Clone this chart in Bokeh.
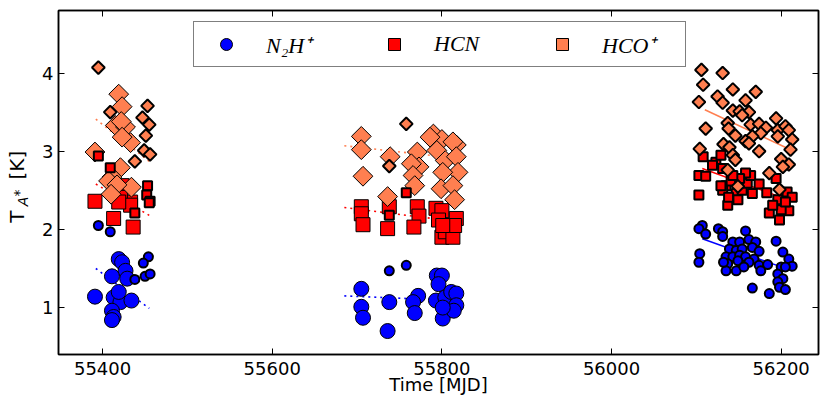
import numpy as np
from bokeh.plotting import figure
from bokeh.layouts import row
from bokeh.models import (Range1d, FixedTicker, LinearAxis, Legend, LegendItem,
                          Label, CustomJSTickFormatter)
from bokeh.embed import file_html
from bokeh.resources import INLINE

# ---------------- data (MJD, T_A* in K) ----------------
# large markers, thin edges (seasons 1 and 2)
n2h_big_t = [55419, 55423, 55427, 55411, 55429, 55391, 55413, 55421, 55434, 55411, 55413, 55411, 55419,
             55705, 55705, 55707, 55738, 55736, 55772, 55766, 55768, 55794, 55800, 55796, 55793,
             55804, 55811, 55817, 55817, 55801, 55814, 55801]
n2h_big_v = [1.62, 1.58, 1.47, 1.40, 1.37, 1.14, 1.13, 1.07, 1.09, 0.96, 0.88, 0.84, 1.20,
             1.24, 1.01, 0.87, 1.07, 0.70, 1.15, 1.07, 0.93, 1.41, 1.41, 1.30, 1.09,
             1.13, 1.20, 1.18, 1.03, 0.86, 0.96, 1.00]

hcn_big_t = [55391, 55423, 55433, 55421, 55433, 55419, 55413, 55436,
             55705, 55705, 55707, 55738, 55736, 55771, 55773, 55767, 55793, 55800, 55796,
             55800, 55804, 55813, 55817, 55815, 55801]
hcn_big_v = [2.36, 2.56, 2.35, 2.41, 2.31, 2.35, 2.14, 2.03,
             2.29, 2.20, 2.06, 2.29, 2.01, 2.29, 2.17, 2.03, 2.27, 2.24, 2.12,
             1.90, 1.97, 1.90, 2.14, 2.05, 2.05]

hco_big_t = [55419, 55423, 55415, 55427, 55422, 55433, 55423, 55391, 55421, 55411, 55407, 55434, 55417, 55410,
             55705, 55705, 55739, 55707, 55771, 55773, 55764, 55766, 55768, 55736, 55790, 55800,
             55794, 55817, 55813, 55804, 55817, 55819, 55801, 55799, 55813, 55815, 55786]
hco_big_v = [3.73, 3.57, 3.33, 3.31, 3.38, 3.11, 3.18, 2.99, 2.79, 2.67, 2.62, 2.54, 2.57, 2.45,
             3.19, 3.02, 2.93, 2.68, 2.99, 2.80, 2.84, 2.69, 2.56, 2.42, 3.22, 3.15,
             3.01, 3.08, 3.12, 2.88, 2.93, 2.73, 2.73, 2.52, 2.56, 2.38, 3.18]

# small markers, thick edges (all three seasons)
n2h_small_t = [55395, 55409, 55454, 55448, 55438, 55450, 55456, 55738, 55758,
               56107, 56103, 56111, 56126, 56131, 56131, 56158, 56194, 56104, 56103,
               56143, 56151, 56162, 56170, 56139, 56147, 56154, 56166, 56174, 56135,
               56143, 56151, 56158, 56168, 56149, 56137, 56174, 56184, 56202, 56209,
               56213, 56200, 56205, 56135, 56147, 56176, 56196, 56202, 56196, 56166,
               56186, 56198, 56205, 56132, 56162, 56156]
n2h_small_v = [2.05, 1.97, 1.65, 1.57, 1.36, 1.40, 1.43, 1.47, 1.54,
               2.05, 2.01, 1.94, 2.01, 1.97, 1.91, 1.98, 1.85, 1.69, 1.58,
               1.84, 1.84, 1.87, 1.84, 1.75, 1.73, 1.75, 1.77, 1.72, 1.65,
               1.65, 1.67, 1.65, 1.62, 1.60, 1.56, 1.54, 1.55, 1.71, 1.62,
               1.53, 1.52, 1.52, 1.47, 1.47, 1.47, 1.43, 1.37, 1.33, 1.25,
               1.18, 1.26, 1.23, 1.58, 1.58, 1.52]

hcn_small_t = [55395, 55409, 55453, 55452, 55456, 55455, 55438, 55758, 55738,
               56103, 56111, 56103, 56137, 56135, 56141, 56131, 56147, 56154, 56160,
               56164, 56158, 56174, 56166, 56183, 56194, 56196, 56207, 56213, 56209,
               56200, 56186, 56198, 56151, 56143, 56138, 56149, 56205, 56190, 56129,
               56108, 56123, 56129, 56131, 56119]
hcn_small_v = [2.94, 2.79, 2.56, 2.44, 2.36, 2.34, 2.21, 2.47, 2.18,
               2.69, 2.68, 2.44, 2.31, 2.56, 2.62, 2.50, 2.46, 2.50, 2.59,
               2.69, 2.72, 2.58, 2.46, 2.47, 2.65, 2.38, 2.48, 2.41, 2.24,
               2.25, 2.21, 2.12, 2.65, 2.69, 2.41, 2.38, 2.35, 2.31, 2.56,
               2.93, 2.86, 2.95, 2.78, 2.82]

hco_small_t = [55395, 55409, 55453, 55447, 55455, 55451, 55449, 55456, 55438, 55758, 55738,
               56106, 56131, 56108, 56143, 56170, 56103, 56125, 56131, 56158, 56143,
               56151, 56162, 56154, 56194, 56111, 56137, 56138, 56164, 56174, 56182,
               56196, 56205, 56209, 56176, 56166, 56196, 56213, 56146, 56158, 56132,
               56139, 56162, 56174, 56211, 56104, 56143, 56146, 56200, 56209, 56202,
               56137, 56186, 56149, 56198]
hco_small_v = [4.07, 3.50, 3.58, 3.43, 3.34, 3.20, 3.01, 2.96, 2.87, 3.35, 2.81,
               4.04, 4.00, 3.85, 3.79, 3.76, 3.63, 3.70, 3.62, 3.65, 3.52,
               3.51, 3.50, 3.46, 3.42, 3.29, 3.36, 3.29, 3.34, 3.35, 3.30,
               3.27, 3.32, 3.27, 3.23, 3.19, 3.19, 3.15, 3.20, 3.13, 3.09,
               3.05, 3.10, 3.00, 3.02, 3.03, 2.95, 2.89, 2.90, 2.83, 2.80,
               2.76, 2.72, 2.55, 2.51]

# linear fits per season: start/end time and value
fit_dot_t0 = [55392, 55685, 55392, 55685, 55392, 55685]
fit_dot_t1 = [55455, 55818, 55455, 55818, 55455, 55818]
fit_dot_v0 = [1.50, 1.15, 2.58, 2.28, 3.41, 3.07]
fit_dot_v1 = [0.99, 1.09, 2.18, 2.10, 2.87, 2.91]
fit_dot_col = ["blue", "blue", "red", "red", "coral", "coral"]

fit_sol_t0 = [56107, 56107, 56110]
fit_sol_t1 = [56213, 56213, 56213]
fit_sol_v0 = [1.88, 2.78, 3.53]
fit_sol_v1 = [1.47, 2.36, 3.01]
fit_sol_col = ["blue", "red", "coral"]

x_ticks = [55400, 55600, 55800, 56000, 56200]
y_ticks = [1, 2, 3, 4]

LAB_W = 32
TOTAL_H = 407

# ---------------- main figure ----------------
p = figure(frame_width=760, frame_height=344,
           x_range=Range1d(55348, 56244), y_range=Range1d(0.4, 4.8),
           output_backend="svg", toolbar_location=None,
           min_border_left=58 - LAB_W, min_border_right=4, min_border_top=10, min_border_bottom=53)
p.xgrid.visible = False
p.ygrid.visible = False
p.outline_line_color = "black"
p.outline_line_width = 1.5
p.outline_line_alpha = 1.0
p.background_fill_color = "white"
p.border_fill_color = "white"


def style_axis(ax, ticks):
    ax.ticker = FixedTicker(ticks=ticks)
    ax.major_tick_in = 6
    ax.major_tick_out = 0
    ax.minor_tick_in = 0
    ax.minor_tick_out = 0
    ax.axis_line_width = 1.5
    ax.axis_line_color = "black"
    ax.major_tick_line_color = "black"
    ax.major_tick_line_width = 1
    ax.major_label_text_font = "DejaVu Sans"
    ax.major_label_text_font_size = "18px"
    ax.major_label_text_color = "black"


style_axis(p.xaxis[0], x_ticks)
style_axis(p.yaxis[0], y_ticks)
p.xaxis[0].major_label_standoff = 7
p.yaxis[0].major_label_standoff = 5
p.xaxis[0].axis_label = "Time [MJD]"
p.xaxis[0].axis_label_text_font = "DejaVu Sans"
p.xaxis[0].axis_label_text_font_size = "18px"
p.xaxis[0].axis_label_text_font_style = "normal"
p.xaxis[0].axis_label_text_color = "black"
p.xaxis[0].axis_label_standoff = -4

blank = CustomJSTickFormatter(code="return ''")
for side, ticks in (("above", x_ticks), ("right", y_ticks)):
    ax = LinearAxis(formatter=blank)
    style_axis(ax, ticks)
    ax.major_label_text_font_size = "0px"
    ax.major_label_standoff = 0
    p.add_layout(ax, side)

# fits
p.segment(x0=fit_dot_t0, y0=fit_dot_v0, x1=fit_dot_t1, y1=fit_dot_v1,
          line_color=fit_dot_col, line_width=1.6, line_dash="2 4")
p.segment(x0=fit_sol_t0, y0=fit_sol_v0, x1=fit_sol_t1, y1=fit_sol_v1,
          line_color=fit_sol_col, line_width=1.5)

# large markers
r_n2h = p.scatter(n2h_big_t, n2h_big_v, marker="circle", size=15,
                  fill_color="blue", line_color="black", line_width=1)
r_hcn = p.scatter(hcn_big_t, hcn_big_v, marker="square", size=14,
                  fill_color="red", line_color="black", line_width=1)
r_hco = p.scatter(hco_big_t, hco_big_v, marker="square", size=14, angle=np.pi / 4,
                  fill_color="coral", line_color="black", line_width=1)

# small markers
p.scatter(n2h_small_t, n2h_small_v, marker="circle", size=9,
          fill_color="blue", line_color="black", line_width=2)
p.scatter(hcn_small_t, hcn_small_v, marker="square", size=9,
          fill_color="red", line_color="black", line_width=2)
p.scatter(hco_small_t, hco_small_v, marker="square", size=9, angle=np.pi / 4,
          fill_color="coral", line_color="black", line_width=2)

legend = Legend(items=[LegendItem(label="N₂H⁺", renderers=[r_n2h]),
                       LegendItem(label="HCN", renderers=[r_hcn]),
                       LegendItem(label="HCO⁺", renderers=[r_hco])],
                orientation="horizontal", location=(135, 287), margin=0,
                padding=7, spacing=27, glyph_width=50, glyph_height=30,
                label_standoff=15, label_width=76, label_height=30,
                label_text_font="Liberation Serif", label_text_font_style="italic",
                label_text_font_size="22px", label_text_baseline="middle",
                label_text_color="black",
                border_line_color="black", border_line_width=1.5,
                background_fill_color="white", background_fill_alpha=1.0)
p.add_layout(legend, "center")

# ---------------- narrow figure holding the y-axis label  T_A^* [K] ----------------
lab = figure(width=LAB_W, height=TOTAL_H, x_range=Range1d(0, LAB_W), y_range=Range1d(0, TOTAL_H),
             output_backend="svg", toolbar_location=None,
             x_axis_location=None, y_axis_location=None,
             min_border=0, min_border_left=0, min_border_right=0, min_border_top=0, min_border_bottom=0)
lab.outline_line_color = None
lab.xgrid.visible = False
lab.ygrid.visible = False
lab.background_fill_color = "white"
lab.border_fill_color = "white"

# centre-anchored pieces (positions counted from the top of the label strip)
ylab = dict(angle=np.pi / 2, text_font="DejaVu Sans", text_color="black",
            text_align="center", text_baseline="middle")
lab.add_layout(Label(x=16, y=TOTAL_H - 244, text="T", text_font_size="20px", **ylab))
lab.add_layout(Label(x=22, y=TOTAL_H - 226, text="A", text_font_size="14px",
                     text_font_style="italic", **ylab))
lab.add_layout(Label(x=18, y=TOTAL_H - 216, text="*", text_font_size="14px", **ylab))
lab.add_layout(Label(x=16.5, y=TOTAL_H - 183, text="[K]", text_font_size="20px", **ylab))

layout = row(lab, p, spacing=0)
open("out.html", "w").write(file_html(layout, INLINE))
